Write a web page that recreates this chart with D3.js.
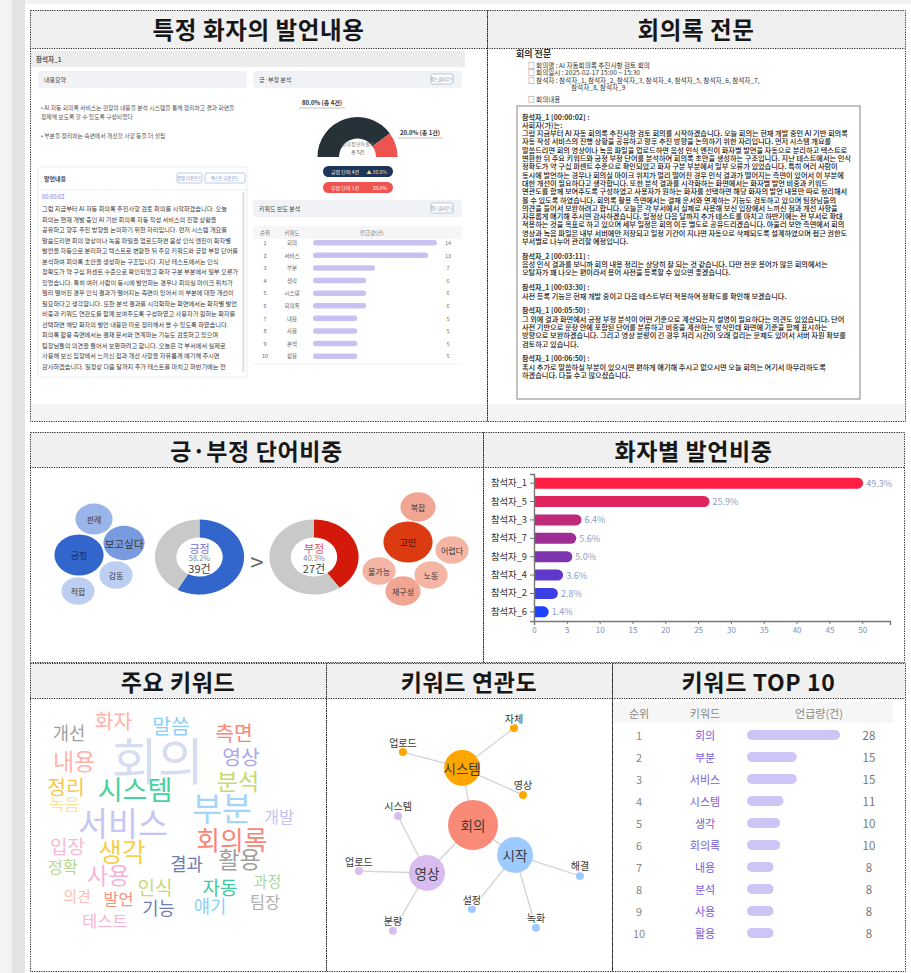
<!DOCTYPE html>
<html>
<head>
<meta charset="utf-8">
<style>
  body { margin: 0; background: #f3f3f3; }
  svg { display: block; font-family: "Noto Sans CJK KR", "Noto Sans", sans-serif; }
</style>
</head>
<body>
<svg width="911" height="973"></svg>
<script src="https://cdn.jsdelivr.net/npm/d3@7"></script>
<script>

// ---------- data ----------
var speakers     = ["참석자_1","참석자_5","참석자_3","참석자_7","참석자_9","참석자_4","참석자_2","참석자_6"];
var speakerShare = [49.3, 25.9, 6.4, 5.6, 5.0, 3.6, 2.8, 1.4];

var sentiment      = ["긍정","부정"];
var sentimentPct   = [58.2, 40.3];
var sentimentCount = [39, 27];

var posWords  = ["긍정","보고싶다","판례","감동","적합"];
var posCounts = [10, 6, 4, 2, 2];
var negWords  = ["고민","복잡","어렵다","불가능","노동","재구성"];
var negCounts = [10, 3, 2, 2, 2, 3];

var cloudWords  = ["회의","부분","서비스","시스템","회의록","생각","사용","활용","내용","분석",
                   "정리","화자","측면","말씀","영상","자동","인식","입장","결과","얘기",
                   "기능","개선","개발","정확","팀장","발언","녹음","테스트","의견","과정"];
var cloudCounts = [28,15,15,11,10,10,8,8,8,8, 6,6,6,6,6,5,5,5,4,4, 4,4,3,3,3,3,3,3,2,2];

var netCenter = "회의";
var netHubs   = ["시스템","영상","시작"];
var netLeaves = [["업로드","자체","영상"],["시스템","업로드","분량"],["해결","설정","녹화"]];

var topKeywords = ["회의","부분","서비스","시스템","생각","회의록","내용","분석","사용","활용"];
var topCounts   = [28, 15, 15, 11, 10, 10, 8, 8, 8, 8];

// speaker_1 screen (inner screenshot)
var gaugeLabels = ["긍정","부정"];
var gaugeCounts = [4, 1];
var freqKeywords = ["회의","서비스","부분","생각","시스템","회의록","내용","사용","분석","활용"];
var freqCounts   = [14, 13, 7, 6, 6, 6, 5, 5, 5, 5];

var summaryText = [
  "• AI 자동 회의록 서비스는 현장의 내용을 분석 시스템을 통해 정리하고 결과 화면을 정제해 보도록 할 수 있도록 구성되었다",
  "• 부분을 정리하는 측면에서 개선할 사항 등을 더 살핌"
];

var speech1 = "그럼 지금부터 AI 자동 회의록 추진사항 검토 회의를 시작하겠습니다. 오늘 회의는 현재 개발 중인 AI 기반 회의록 자동 작성 서비스의 진행 상황을 공유하고 향후 추진 방향을 논의하기 위한 자리입니다. 먼저 시스템 개요를 말씀드리면 회의 영상이나 녹음 파일을 업로드하면 음성 인식 엔진이 화자별 발언을 자동으로 분리하고 텍스트로 변환한 뒤 주요 키워드와 긍정 부정 단어를 분석하여 회의록 초안을 생성하는 구조입니다. 지난 테스트에서는 인식 정확도가 약 구십 퍼센트 수준으로 확인되었고 화자 구분 부분에서 일부 오류가 있었습니다. 특히 여러 사람이 동시에 발언하는 경우나 회의실 마이크 위치가 멀리 떨어진 경우 인식 결과가 떨어지는 측면이 있어서 이 부분에 대한 개선이 필요하다고 생각합니다. 또한 분석 결과를 시각화하는 화면에서는 화자별 발언 비중과 키워드 연관도를 함께 보여주도록 구성하였고 사용자가 원하는 화자를 선택하면 해당 화자의 발언 내용만 따로 정리해서 볼 수 있도록 하였습니다. 회의록 활용 측면에서는 결재 문서와 연계하는 기능도 검토하고 있으며 팀장님들의 의견을 들어서 보완하려고 합니다. 오늘은 각 부서에서 실제로 사용해 보신 입장에서 느끼신 점과 개선 사항을 자유롭게 얘기해 주시면 감사하겠습니다. 일정상 다음 달까지 추가 테스트를 마치고 하반기에는 전 부서로 확대 적용하는 것을 목표로 하고 있으며 세부 일정은 회의 이후 별도로 공유드리겠습니다. 아울러 보안 측면에서 회의 영상과 녹음 파일은 내부 서버에만 저장되고 일정 기간이 지나면 자동으로 삭제되도록 설계하였으며 접근 권한도 부서별로 나누어 관리할 예정입니다.";

var transcript = [
  { who: "참석자_1 [00:00:02] :", lead: "사회자(가)는:", text: speech1 },
  { who: "참석자_2 [00:03:11] :", text: "음성 인식 결과를 보니까 회의 내용 정리는 상당히 잘 되는 것 같습니다. 다만 전문 용어가 많은 회의에서는 오탈자가 꽤 나오는 편이라서 용어 사전을 등록할 수 있으면 좋겠습니다." },
  { who: "참석자_1 [00:03:30] :", text: "사전 등록 기능은 현재 개발 중이고 다음 테스트부터 적용하여 정확도를 확인해 보겠습니다." },
  { who: "참석자_1 [00:05:50] :", text: "그 외에 결과 화면에서 긍정 부정 분석이 어떤 기준으로 계산되는지 설명이 필요하다는 의견도 있었습니다. 단어 사전 기반으로 문장 안에 포함된 단어를 분류하고 비중을 계산하는 방식인데 화면에 기준을 함께 표시하는 방향으로 보완하겠습니다. 그리고 영상 분량이 긴 경우 처리 시간이 오래 걸리는 문제도 있어서 서버 자원 확보를 검토하고 있습니다." },
  { who: "참석자_1 [00:06:50] :", text: "혹시 추가로 말씀하실 부분이 있으시면 편하게 얘기해 주시고 없으시면 오늘 회의는 여기서 마무리하도록 하겠습니다. 다들 수고 많으셨습니다." }
];

// ---------- layout ----------
var panels = [
  { title: "특정 화자의 발언내용", x: 30,  y: 10,  w: 457, h: 411, th: 38, fs: 23.5 },
  { title: "회의록 전문",          x: 487, y: 10,  w: 418, h: 411, th: 38, fs: 23.5 },
  { title: "긍·부정 단어비중",     x: 30,  y: 432, w: 453, h: 230, th: 35, fs: 23 },
  { title: "화자별 발언비중",       x: 483, y: 432, w: 421, h: 230, th: 35, fs: 23 },
  { title: "주요 키워드",          x: 30,  y: 663, w: 296, h: 308, th: 35, fs: 23 },
  { title: "키워드 연관도",        x: 326, y: 663, w: 286, h: 308, th: 35, fs: 23 },
  { title: "키워드 TOP 10",        x: 612, y: 663, w: 293, h: 308, th: 35, fs: 23 }
];

var cloudPos = [[43.2,22.0],[64.9,39.9],[31.4,45.1],[35.5,33.3],[68.2,51.5],[31.1,55.7],[26.4,64.5],[70.8,58.6],[14.9,22.7],[70.3,30.0],
                [12.2,32.2],[28.2,8.1],[68.9,12.5],[47.6,9.9],[71.3,21.2],[64.2,68.9],[42.2,69.0],[12.7,54.2],[52.9,60.4],[60.8,75.8],
                [43.4,76.7],[13.2,12.6],[84.1,43.4],[11.1,61.7],[79.4,74.2],[29.9,73.4],[11.7,38.3],[25.3,81.3],[15.9,72.2],[80.2,66.8]];
var cloudPalette = ["#d6ddf0","#a3d5f7","#c6c6f3","#45d39d","#f98676","#f7cf4b","#f8b3d6","#a0a0a0","#ffb3aa","#c6da6e",
                    "#f6c94a","#ffb3aa","#f98676","#8dcff8","#a9a6ee","#3fca9d","#c8d975","#f8b8d8","#6e7db3","#8dcff8",
                    "#6e7db3","#9e9e9e","#c4c2f2","#b5d88c","#aeaeae","#ff8e7e","#fde38a","#f8b3d6","#ffc0b3","#a5dba0"];

var netCenterPos = [51.4, 46.5];
var netHubPos    = [[47.6,25.6],[35.3,64.1],[66.1,57.5]];
var netLeafPos   = [[[26.9,19.8],[65.7,11.0],[68.9,35.5]],
                    [[25.2,43.2],[11.5,63.4],[23.4,85.3]],
                    [[88.8,65.2],[51.0,77.3],[73.4,84.2]]];
var netColors    = ["#ffa500","#d9bdf0","#9ecbff"];

var posBubblePos = [[79,555],[124,543],[94,519],[116,575],[78,591]];
var negBubblePos = [[408,542],[418,507],[452,550],[379,571],[431,575],[403,591]];

var FONT = "'Noto Sans CJK KR','Noto Sans',sans-serif";
var svg = d3.select("svg");

// text wrapping with canvas measuring
var mctx = document.createElement("canvas").getContext("2d");
function wrapText(str, size, width, weight) {
  mctx.font = (weight || "normal") + " " + size + "px " + FONT;
  var words = str.split(" "), lines = [], line = "";
  words.forEach(function(w) {
    var test = line ? line + " " + w : w;
    if (mctx.measureText(test).width > width && line) { lines.push(line); line = w; }
    else line = test;
  });
  if (line) lines.push(line);
  return lines;
}

// ---------- page background ----------
svg.append("rect").attr("width", 911).attr("height", 973).attr("fill", "#f3f3f3");
svg.append("rect").attr("x", 12).attr("width", 13).attr("height", 973).attr("fill", "#e3e3e3");
svg.append("rect").attr("x", 25).attr("y", 4).attr("width", 886).attr("height", 969).attr("fill", "#fff");

// title bars
panels.forEach(function(p) {
  svg.append("rect").attr("x", p.x).attr("y", p.y).attr("width", p.w).attr("height", p.th).attr("fill", "#f0f0f0");
  svg.append("text")
    .attr("x", p.x + p.w / 2).attr("y", p.y + p.th / 2)
    .attr("text-anchor", "middle").attr("dominant-baseline", "central")
    .attr("font-size", p.fs).attr("font-weight", 700).attr("fill", "#171717")
    .attr("letter-spacing", 0.6)
    .text(p.title);
});

// ================= 1. 특정 화자의 발언내용 (screen capture) =================
var tl = svg.append("g").attr("font-family", FONT);
tl.append("rect").attr("x", 31).attr("y", 51).attr("width", 434).attr("height", 16).attr("fill", "#ececec");
tl.append("text").attr("x", 36).attr("y", 62).attr("font-size", 6.5).attr("font-weight", 700).attr("fill", "#555").text("참석자_1");

[[38, "내용요약"], [253, "긍·부정 분석"]].forEach(function(c) {
  tl.append("rect").attr("x", c[0]).attr("y", 71).attr("width", 209).attr("height", 17).attr("rx", 3).attr("fill", "#f1f2f5");
  tl.append("text").attr("x", c[0] + 6).attr("y", 82).attr("font-size", 6).attr("fill", "#444").text(c[1]);
});
function miniButton(x, y, w, label) {
  tl.append("rect").attr("x", x).attr("y", y).attr("width", w).attr("height", 10).attr("rx", 1.5)
    .attr("fill", "#fff").attr("stroke", "#9db5da").attr("stroke-width", 0.7);
  tl.append("text").attr("x", x + w / 2).attr("y", y + 7).attr("text-anchor", "middle")
    .attr("font-size", 4.2).attr("fill", "#6a86bb").text(label);
}
miniButton(431, 74, 22, "워드클라우드");

// summary
var sy = 110;
summaryText.forEach(function(s) {
  wrapText(s, 5.8, 200).forEach(function(l) {
    tl.append("text").attr("x", 41).attr("y", sy).attr("font-size", 5.8).attr("fill", "#555").text(l);
    sy += 9;
  });
  sy += 10;
});

// gauge
var gcx = 357.5, gcy = 157;
var gaugePie = d3.pie().sort(null).startAngle(-Math.PI / 2).endAngle(Math.PI / 2);
var gaugeArc = d3.arc().innerRadius(18.5).outerRadius(40);
var gaugeTotal = d3.sum(gaugeCounts);
tl.append("g").attr("transform", "translate(" + gcx + "," + gcy + ")")
  .selectAll("path").data(gaugePie(gaugeCounts)).join("path")
  .attr("d", gaugeArc).attr("fill", function(d, i) { return i === 0 ? "#263238" : "#ef5350"; });
var gaugeLab = [[322, 105, 299, 345], [420, 135, 398, 443]];
gaugeCounts.forEach(function(c, i) {
  var L = gaugeLab[i];
  tl.append("text").attr("x", L[0]).attr("y", L[1]).attr("text-anchor", "middle").attr("font-size", 6)
    .attr("font-weight", 700).attr("fill", "#333")
    .text(d3.format(".1f")(c / gaugeTotal * 100) + "% (총 " + c + "건)");
  tl.append("line").attr("x1", L[2]).attr("x2", L[3]).attr("y1", L[1] + 3).attr("y2", L[1] + 3)
    .attr("stroke", "#999").attr("stroke-width", 0.6);
});
tl.append("text").attr("x", gcx).attr("y", 146).attr("text-anchor", "middle").attr("font-size", 4.5).attr("fill", "#666").text("긍/부정 단어 합계");
tl.append("text").attr("x", gcx).attr("y", 154).attr("text-anchor", "middle").attr("font-size", 5).attr("fill", "#444").text("총 " + gaugeTotal + "건");
gaugeLabels.forEach(function(g, i) {
  var py = 166 + i * 16;
  tl.append("rect").attr("x", 323).attr("y", py).attr("width", 70).attr("height", 11).attr("rx", 5.5)
    .attr("fill", i === 0 ? "#1d3557" : "#ef5350");
  tl.append("text").attr("x", 331).attr("y", py + 7.5).attr("font-size", 5).attr("fill", "#fff")
    .text(g + " 단어 " + gaugeCounts[i] + "건");
  tl.append("text").attr("x", 387).attr("y", py + 7.5).attr("text-anchor", "end").attr("font-size", 5)
    .attr("fill", i === 0 ? "#f1d98a" : "#fff")
    .text((i === 0 ? "▲ " : "") + d3.format(".1f")(gaugeCounts[i] / gaugeTotal * 100) + "%");
});

// speech card
tl.append("rect").attr("x", 38).attr("y", 167).attr("width", 209).attr("height", 210).attr("rx", 3)
  .attr("fill", "#fff").attr("stroke", "#eceef2");
tl.append("text").attr("x", 44).attr("y", 181).attr("font-size", 6).attr("font-weight", 700).attr("fill", "#444").text("발언내용");
miniButton(177, 173, 25, "문장 다운로드");
miniButton(205, 173, 40, "텍스트 다운로드");
tl.append("line").attr("x1", 38).attr("x2", 247).attr("y1", 190).attr("y2", 190).attr("stroke", "#eee");
tl.append("text").attr("x", 42).attr("y", 199).attr("font-size", 5.8).attr("fill", "#7c73d9").text("00:00:02");
tl.append("clipPath").attr("id", "speechClip").append("rect").attr("x", 38).attr("y", 200).attr("width", 205).attr("height", 172);
var sp = tl.append("g").attr("clip-path", "url(#speechClip)");
wrapText(speech1, 6.2, 197).forEach(function(l, i) {
  sp.append("text").attr("x", 42).attr("y", 211 + i * 10.5).attr("font-size", 6.2).attr("fill", "#3a3a3a").text(l);
});
tl.append("rect").attr("x", 242).attr("y", 192).attr("width", 2.5).attr("height", 180).attr("fill", "#e4e4e4");

// keyword frequency card
tl.append("rect").attr("x", 253).attr("y", 200).attr("width", 209).attr("height", 17).attr("rx", 3).attr("fill", "#f1f2f5");
tl.append("text").attr("x", 259).attr("y", 211).attr("font-size", 6).attr("fill", "#444").text("키워드 빈도 분석");
miniButton(431, 203, 22, "워드클라우드");
tl.append("rect").attr("x", 253).attr("y", 226).attr("width", 209).attr("height", 13).attr("fill", "#f6f6f8");
[["순위", 265], ["키워드", 292], ["언급량(건)", 372]].forEach(function(h) {
  tl.append("text").attr("x", h[1]).attr("y", 235).attr("text-anchor", "middle").attr("font-size", 5.5).attr("fill", "#777").text(h[0]);
});
var fx = d3.scaleLinear().domain([0, d3.max(freqCounts)]).range([0, 124]);
freqKeywords.forEach(function(k, i) {
  var ry = 243 + i * 12.6;
  tl.append("text").attr("x", 265).attr("y", ry + 2).attr("text-anchor", "middle").attr("font-size", 5.5).attr("fill", "#666").text(i + 1);
  tl.append("text").attr("x", 292).attr("y", ry + 2).attr("text-anchor", "middle").attr("font-size", 5.5).attr("fill", "#666").text(k);
  tl.append("rect").attr("x", 313).attr("y", ry - 3).attr("width", fx(freqCounts[i])).attr("height", 5.5).attr("rx", 2.7).attr("fill", "#c9c1f2");
  tl.append("text").attr("x", 448).attr("y", ry + 2).attr("text-anchor", "middle").attr("font-size", 5.5).attr("fill", "#777").text(freqCounts[i]);
});
tl.append("line").attr("x1", 253).attr("x2", 462).attr("y1", 364).attr("y2", 364).attr("stroke", "#f0f0f0");
svg.append("rect").attr("x", 31).attr("y", 404).attr("width", 455).attr("height", 16).attr("fill", "#f4f4f4");

// ================= 2. 회의록 전문 =================
var tr = svg.append("g").attr("font-family", FONT);
tr.append("text").attr("x", 516).attr("y", 57).attr("font-size", 9).attr("font-weight", 700).attr("fill", "#333").text("회의 전문");
var meta = [
  [528, 67.5, "□ 회의명 : AI 자동회의록 추진사항 검토 회의"],
  [528, 75, "□ 회의일시 : 2025-02-17 15:00 ~ 15:30"],
  [528, 82.5, "□ 참석자 : " + speakers.slice().sort().slice(0, 7).join(", ") + ","],
  [571, 89.5, "참석자_8, 참석자_9"],
  [528, 102, "□ 회의내용"]
];
meta.forEach(function(m) {
  tr.append("text").attr("x", m[0]).attr("y", m[1]).attr("font-size", 6.6).attr("fill", "#333").text(m[2]);
});
tr.append("rect").attr("x", 517).attr("y", 106).attr("width", 343).attr("height", 293)
  .attr("fill", "#fff").attr("stroke", "#9a9a9a").attr("stroke-width", 1.2);
var ty = 119.5, lineStep = 8.3;
transcript.forEach(function(b) {
  tr.append("text").attr("x", 522).attr("y", ty).attr("font-size", 7).attr("font-weight", 700).attr("fill", "#333").text(b.who);
  ty += lineStep;
  var lines = (b.lead ? [b.lead] : []).concat(wrapText(b.text, 7.2, 333));
  lines.forEach(function(l) {
    tr.append("text").attr("x", 522).attr("y", ty).attr("font-size", 7.2).attr("font-weight", 500).attr("fill", "#222").text(l);
    ty += lineStep;
  });
  ty += 6.5;
});
svg.append("rect").attr("x", 488).attr("y", 404).attr("width", 416).attr("height", 16).attr("fill", "#f4f4f4");

// ================= 3. 긍·부정 단어비중 =================
var sg = svg.append("g").attr("font-family", FONT);
var bubbleR = d3.scaleLinear().domain([2, 10]).range([13.8, 20.5]);
var posColor = d3.scaleLinear().domain([2, 10]).range(["#bccff2", "#3366cc"]);
var negColor = d3.scaleLinear().domain([2, 10]).range(["#f4b5a5", "#dc3b12"]);

function bubbles(words, counts, pos, colorScale, labelColor) {
  words.forEach(function(w, i) {
    var r = bubbleR(counts[i]);
    sg.append("ellipse").attr("cx", pos[i][0]).attr("cy", pos[i][1])
      .attr("rx", r * 1.2).attr("ry", r).attr("fill", colorScale(counts[i]));
  });
  words.forEach(function(w, i) {
    sg.append("text").attr("x", pos[i][0]).attr("y", pos[i][1])
      .attr("text-anchor", "middle").attr("dominant-baseline", "central")
      .attr("font-size", w.length > 3 ? 10.5 : (counts[i] >= 10 ? 9 : 8))
      .attr("fill", counts[i] >= 10 ? labelColor : "#3a3a3a").text(w);
  });
}
bubbles(posWords, posCounts, posBubblePos, posColor, "#1b2a55");
bubbles(negWords, negCounts, negBubblePos, negColor, "#4a1200");

var donutPie = d3.pie().sort(null);
var donutArc = d3.arc().innerRadius(19.5).outerRadius(37.5);
var donutX = [199.5, 314];
var donutColor = ["#3366cc", "#d4190b"];
var donutTextColor = ["#6f6fd2", "#e0505e"];
sentiment.forEach(function(s, i) {
  var g = sg.append("g").attr("transform", "translate(" + donutX[i] + ",557) scale(1.19,1)");
  g.selectAll("path").data(donutPie([sentimentPct[i], 100 - sentimentPct[i]])).join("path")
    .attr("d", donutArc).attr("fill", function(d, j) { return j === 0 ? donutColor[i] : "#c9c9c9"; });
  sg.append("text").attr("x", donutX[i]).attr("y", 547.5).attr("text-anchor", "middle").attr("dominant-baseline", "central")
    .attr("font-size", 11).attr("fill", donutTextColor[i]).text(s);
  sg.append("text").attr("x", donutX[i]).attr("y", 557).attr("text-anchor", "middle").attr("dominant-baseline", "central")
    .attr("font-size", 7.5).attr("fill", "#888").text(sentimentPct[i].toFixed(1) + "%");
  sg.append("text").attr("x", donutX[i]).attr("y", 568).attr("text-anchor", "middle").attr("dominant-baseline", "central")
    .attr("font-size", 11).attr("fill", "#444").text(sentimentCount[i] + "건");
});
sg.append("text").attr("x", 257).attr("y", 560).attr("text-anchor", "middle").attr("dominant-baseline", "central")
  .attr("font-size", 24).attr("fill", "#666").text(">");

// ================= 4. 화자별 발언비중 =================
var bx = d3.scaleLinear().domain([0, d3.max(speakerShare) * 1.1]).range([534, 890]);
var by = d3.scaleBand().domain(speakers).range([474, 621]).paddingInner(0.4).paddingOuter(0.2);
var barColor = d3.scaleLinear().domain([0, speakers.length - 1]).range(["#ff1f44", "#1d43ff"]);
var bc = svg.append("g").attr("font-family", FONT);
function roundRight(x0, x1, y0, h) {
  var r = h / 2;
  return "M" + x0 + "," + y0 + "H" + (x1 - r) + "A" + r + "," + r + " 0 0 1 " + (x1 - r) + "," + (y0 + h) + "H" + x0 + "Z";
}
bc.selectAll("path.bar").data(speakers).join("path").attr("class", "bar")
  .attr("d", function(d, i) { return roundRight(bx(0), bx(speakerShare[i]) + by.bandwidth() / 2, by(d), by.bandwidth()); })
  .attr("fill", function(d, i) { return barColor(i); });
bc.selectAll("text.val").data(speakers).join("text").attr("class", "val")
  .attr("x", function(d, i) { return bx(speakerShare[i]) + by.bandwidth() / 2 + 3; })
  .attr("y", function(d) { return by(d) + by.bandwidth() / 2; })
  .attr("dominant-baseline", "central").attr("font-size", 9).attr("fill", "#8da0c8")
  .text(function(d, i) { return speakerShare[i].toFixed(1) + "%"; });
var yAxis = bc.append("g").attr("transform", "translate(534,0)").call(d3.axisLeft(by).tickSize(4).tickSizeOuter(4));
yAxis.selectAll("text").attr("font-size", 9.3).attr("fill", "#333").attr("font-family", FONT);
var xAxis = bc.append("g").attr("transform", "translate(0,621)")
  .call(d3.axisBottom(bx).tickValues(d3.range(0, 51, 5)).tickSize(3).tickSizeOuter(4));
xAxis.selectAll("text").attr("font-size", 8).attr("fill", "#7d8fbf").attr("font-family", FONT);
bc.selectAll(".domain").attr("stroke", "#777").attr("stroke-width", 1.4);
bc.selectAll(".tick line").attr("stroke", "#777");

// ================= 5. 주요 키워드 (word cloud) =================
var cxs = d3.scaleLinear().domain([0, 100]).range([30, 326]);
var cys = d3.scaleLinear().domain([0, 100]).range([698, 971]);
var cloudSize = d3.scaleLinear().domain([2, 28]).range([15, 50]);
var cloudColor = d3.scaleOrdinal(cloudWords, cloudPalette);
svg.append("g").attr("font-family", FONT)
  .selectAll("text").data(cloudWords).join("text")
  .attr("x", function(d, i) { return cxs(cloudPos[i][0]); })
  .attr("y", function(d, i) { return cys(cloudPos[i][1]); })
  .attr("text-anchor", "middle").attr("dominant-baseline", "central")
  .attr("font-size", function(d, i) { return cloudSize(cloudCounts[i]); })
  .attr("fill", function(d) { return cloudColor(d); })
  .text(function(d) { return d; });

// ================= 6. 키워드 연관도 =================
var nxs = d3.scaleLinear().domain([0, 100]).range([326, 612]);
var nys = d3.scaleLinear().domain([0, 100]).range([698, 971]);
var nodes = [{ name: netCenter, x: nxs(netCenterPos[0]), y: nys(netCenterPos[1]), r: 25, color: "#fa8a78", hub: true }];
var links = [];
netHubs.forEach(function(h, i) {
  var hn = { name: h, x: nxs(netHubPos[i][0]), y: nys(netHubPos[i][1]), r: 18, color: netColors[i], hub: true };
  nodes.push(hn);
  links.push([nodes[0], hn]);
  netLeaves[i].forEach(function(l, j) {
    var ln = { name: l, x: nxs(netLeafPos[i][j][0]), y: nys(netLeafPos[i][j][1]), r: 4, color: netColors[i], hub: false };
    nodes.push(ln);
    links.push([hn, ln]);
  });
});
var ng = svg.append("g").attr("font-family", FONT);
ng.selectAll("line").data(links).join("line")
  .attr("x1", function(d) { return d[0].x; }).attr("y1", function(d) { return d[0].y; })
  .attr("x2", function(d) { return d[1].x; }).attr("y2", function(d) { return d[1].y; })
  .attr("stroke", "#d2d2d2").attr("stroke-width", 1.3);
ng.selectAll("circle").data(nodes).join("circle")
  .attr("cx", function(d) { return d.x; }).attr("cy", function(d) { return d.y; })
  .attr("r", function(d) { return d.r; }).attr("fill", function(d) { return d.color; });
ng.selectAll("text").data(nodes).join("text")
  .attr("x", function(d) { return d.x; })
  .attr("y", function(d) { return d.hub ? d.y : d.y - 10; })
  .attr("text-anchor", "middle").attr("dominant-baseline", "central")
  .attr("font-size", function(d) { return d.hub ? 13.5 : 10; })
  .attr("fill", "#3a3a3a")
  .attr("stroke", function(d) { return d.hub ? "none" : "#fff"; })
  .attr("stroke-width", 2.5).attr("paint-order", "stroke")
  .text(function(d) { return d.name; });

// ================= 7. 키워드 TOP 10 =================
var tg = svg.append("g").attr("font-family", FONT);
tg.append("rect").attr("x", 613).attr("y", 701).attr("width", 280).attr("height", 22).attr("fill", "#f6f6f6");
[["순위", 639], ["키워드", 705], ["언급량(건)", 819]].forEach(function(h) {
  tg.append("text").attr("x", h[1]).attr("y", 713).attr("text-anchor", "middle").attr("dominant-baseline", "central")
    .attr("font-size", 11).attr("fill", "#888").text(h[0]);
});
var tx = d3.scaleLinear().domain([0, d3.max(topCounts)]).range([0, 93]);
var tyS = d3.scalePoint().domain(topKeywords).range([735, 933]);
topKeywords.forEach(function(k, i) {
  var yy = tyS(k);
  tg.append("text").attr("x", 639).attr("y", yy).attr("text-anchor", "middle").attr("dominant-baseline", "central")
    .attr("font-size", 11).attr("fill", "#888").text(i + 1);
  tg.append("text").attr("x", 705).attr("y", yy).attr("text-anchor", "middle").attr("dominant-baseline", "central")
    .attr("font-size", 11).attr("fill", "#7a5bd8").text(k);
  tg.append("rect").attr("x", 747).attr("y", yy - 5).attr("width", tx(topCounts[i])).attr("height", 10).attr("rx", 5)
    .attr("fill", "#cec5f6");
  tg.append("text").attr("x", 869).attr("y", yy).attr("text-anchor", "middle").attr("dominant-baseline", "central")
    .attr("font-size", 11.5).attr("fill", "#777").text(topCounts[i]);
});

// ---------- dotted frames on top ----------
panels.forEach(function(p) {
  svg.append("rect").attr("x", p.x + 0.5).attr("y", p.y + 0.5).attr("width", p.w).attr("height", p.h)
    .attr("fill", "none").attr("stroke", "#222").attr("stroke-width", 1).attr("stroke-dasharray", "1.2,1.2");
  svg.append("line").attr("x1", p.x).attr("x2", p.x + p.w).attr("y1", p.y + p.th + 0.5).attr("y2", p.y + p.th + 0.5)
    .attr("stroke", "#222").attr("stroke-width", 1).attr("stroke-dasharray", "1.2,1.2");
});

</script>
</body>
</html>
